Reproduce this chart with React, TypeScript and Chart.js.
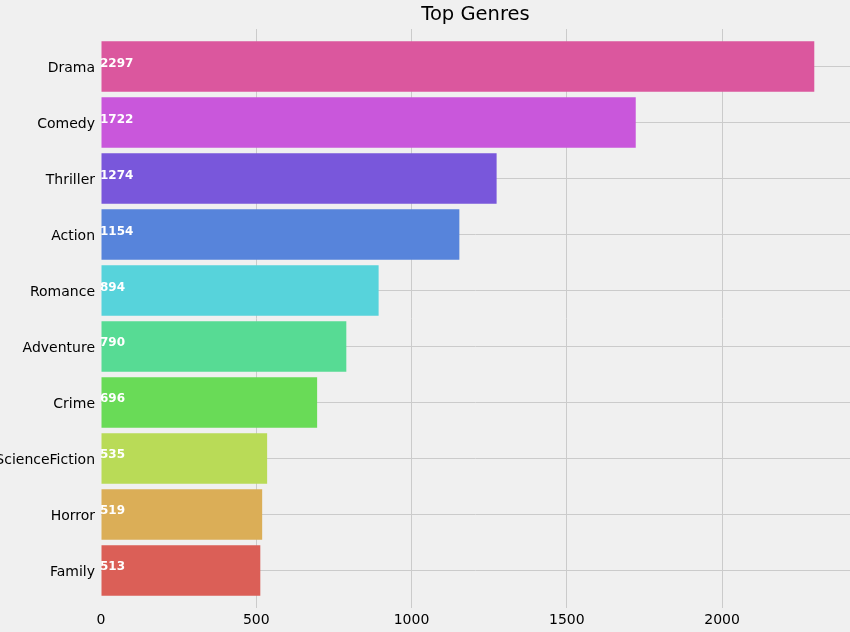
import React, { useEffect, useRef } from "react";
import { Chart, registerables } from "chart.js";

Chart.register(...registerables);

const title = "Top Genres";
const genres = ["Drama", "Comedy", "Thriller", "Action", "Romance", "Adventure", "Crime", "ScienceFiction", "Horror", "Family"];
const counts = [2297, 1722, 1274, 1154, 894, 790, 696, 535, 519, 513];
const colors = ["#db579e", "#c957db", "#7957db", "#5784db", "#57d3db", "#57db94", "#69db57", "#b9db57", "#dbae57", "#db5f57"];
const xTicks = [0, 500, 1000, 1500, 2000];
const xMax = 2412;

const FONT = "'DejaVu Sans', sans-serif";

const valueLabels = {
  id: "valueLabels",
  afterDatasetsDraw(chart: any) {
    const { ctx } = chart;
    const meta = chart.getDatasetMeta(0);
    const x0 = chart.scales.x.getPixelForValue(0);
    ctx.save();
    ctx.font = `bold 12px ${FONT}`;
    ctx.fillStyle = "#ffffff";
    ctx.textAlign = "left";
    ctx.textBaseline = "alphabetic";
    meta.data.forEach((el: any, i: number) => {
      ctx.fillText(String(counts[i]), x0 - 1, el.y);
    });
    ctx.restore();
  },
};

export default function App() {
  const ref = useRef<HTMLCanvasElement | null>(null);
  useEffect(() => {
    if (!ref.current) return;
    const chart = new Chart(ref.current, {
      type: "bar",
      data: {
        datasets: [
          {
            data: counts.map((v, i) => ({ x: v, y: i })),
            backgroundColor: colors,
            borderWidth: 0,
            barPercentage: 0.9,
            categoryPercentage: 1,
          } as any,
        ],
      },
      options: {
        indexAxis: "y",
        responsive: false,
        animation: false,
        layout: { padding: 0 },
        plugins: {
          legend: { display: false },
          tooltip: { enabled: false },
          title: {
            display: true,
            text: title,
            fullSize: false,
            color: "#000000",
            font: { family: FONT, size: 19.5, weight: "normal" },
            padding: { top: 3.5, bottom: 2.1 },
          },
        },
        scales: {
          x: {
            type: "linear",
            position: "bottom",
            offset: false,
            min: 0,
            max: xMax,
            afterBuildTicks: (s: any) => {
              s.ticks = xTicks.map((v) => ({ value: v }));
            },
            afterFit: (s: any) => {
              s.height = 24;
            },
            ticks: {
              callback: (v: any) => String(v),
              color: "#000000",
              font: { family: FONT, size: 14 },
              padding: 4,
              maxRotation: 0,
            },
            grid: {
              offset: false,
              color: (c: any) => (c.tick && c.tick.value === 0 ? "rgba(0,0,0,0)" : "#cbcbcb"),
              lineWidth: 1,
              drawTicks: false,
            },
            border: { display: false },
          },
          y: {
            type: "linear",
            reverse: true,
            offset: false,
            min: -0.67,
            max: 9.67,
            afterBuildTicks: (s: any) => {
              s.ticks = genres.map((_, i) => ({ value: i }));
            },
            afterFit: (s: any) => {
              s.width = 101;
            },
            ticks: {
              callback: (v: any) => genres[v as number],
              color: "#000000",
              font: { family: FONT, size: 14 },
              padding: 6,
              labelOffset: 1.5,
              autoSkip: false,
            },
            grid: {
              offset: false,
              color: "#cbcbcb",
              lineWidth: 1,
              drawTicks: false,
            },
            border: { display: false },
          },
        },
      } as any,
      plugins: [valueLabels],
    });
    return () => chart.destroy();
  }, []);

  return (
    <div style={{ position: "fixed", left: 0, top: 0, width: 850, height: 632, background: "#f0f0f0" }}>
      <canvas ref={ref} width={850} height={632} style={{ display: "block", width: 850, height: 632 }} />
    </div>
  );
}
